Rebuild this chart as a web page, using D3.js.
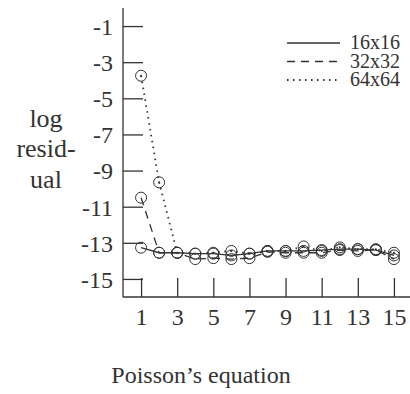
<!DOCTYPE html>
<html>
<head>
<meta charset="utf-8">
<script src="https://cdn.jsdelivr.net/npm/d3@7"></script>
<style>
  body { margin: 0; background: #fff; }
  svg text { font-family: "Liberation Serif", "Times New Roman", serif; fill: #333; }
</style>
</head>
<body>
<div id="chart"></div>
<script>
// iteration number on the x axis
var iterations = [1, 2, 3, 4, 5, 6, 7, 8, 9, 10, 11, 12, 13, 14, 15];

// log residual per grid size
var res16 = [-13.27, -13.55, -13.55, -13.6, -13.6, -13.7, -13.6, -13.45, -13.45, -13.45, -13.4, -13.35, -13.35, -13.4, -13.7];
var res32 = [-10.5, -13.55, -13.55, -13.9, -13.85, -13.9, -13.85, -13.5, -13.55, -13.55, -13.55, -13.4, -13.45, -13.4, -13.9];
var res64 = [-3.75, -9.65, -13.55, -13.6, -13.55, -13.45, -13.6, -13.45, -13.45, -13.2, -13.45, -13.25, -13.35, -13.35, -13.55];

var seriesNames = ["16x16", "32x32", "64x64"];
var xTicks = [1, 3, 5, 7, 9, 11, 13, 15];
var yTicks = [-1, -3, -5, -7, -9, -11, -13, -15];

var svgWidth = 410;
var svgHeight = 394;
var ink = "#333";
var serif = "'Liberation Serif', 'Times New Roman', serif";

var svg = d3.select("#chart")
  .append("svg")
  .attr("width", svgWidth)
  .attr("height", svgHeight);

var x = d3.scaleLinear().domain([0, 16]).range([123, 412]);
var y = d3.scaleLinear().domain([-16, 0]).range([297, 8]);

// axis lines
svg.append("line")
  .attr("x1", x(0)).attr("x2", x(0))
  .attr("y1", y(0)).attr("y2", y(-16))
  .attr("stroke", ink).attr("stroke-width", 1.3);
svg.append("line")
  .attr("x1", x(0)).attr("x2", x(16))
  .attr("y1", y(-16)).attr("y2", y(-16))
  .attr("stroke", ink).attr("stroke-width", 1.3);

// y axis: ticks point inwards
var leftAxis = d3.axisRight(y)
  .tickValues(yTicks)
  .tickSize(20)
  .tickFormat(d3.format("d"));
var yAxis = svg.append("g")
  .attr("transform", `translate(${x(0)}, 0)`)
  .call(leftAxis);
yAxis.attr("font-family", null).attr("font-size", null);
yAxis.select(".domain").remove();
yAxis.selectAll("line").attr("stroke", ink).attr("stroke-width", 1.3);
yAxis.selectAll("text")
  .attr("x", -10)
  .attr("dy", "0.35em")
  .attr("text-anchor", "end")
  .attr("fill", ink)
  .style("font-size", "24px")
  .style("font-family", serif)
  .text(d => d < 0 ? "-" + Math.abs(d) : d);

// x axis: ticks point upwards
var bottomAxis = d3.axisTop(x)
  .tickValues(xTicks)
  .tickSize(19)
  .tickFormat(d3.format("d"));
var xAxis = svg.append("g")
  .attr("transform", `translate(0, ${y(-16)})`)
  .call(bottomAxis);
xAxis.attr("font-family", null).attr("font-size", null);
xAxis.select(".domain").remove();
xAxis.selectAll("line").attr("stroke", ink).attr("stroke-width", 1.3);
xAxis.selectAll("text")
  .attr("y", 28)
  .attr("dy", 0)
  .attr("fill", ink)
  .style("font-size", "24px")
  .style("font-family", serif);

// y axis label
var ylab = svg.append("text")
  .attr("text-anchor", "middle")
  .style("font-size", "26px")
  .style("font-family", serif);
ylab.append("tspan").attr("x", 46).attr("y", 127).text("log");
ylab.append("tspan").attr("x", 46).attr("y", 157).text("resid-");
ylab.append("tspan").attr("x", 46).attr("y", 188).text("ual");

// x axis title
svg.append("text")
  .attr("x", 201)
  .attr("y", 383)
  .attr("text-anchor", "middle")
  .style("font-size", "24px")
  .style("font-family", serif)
  .text("Poisson\u2019s equation");

// series
var allSeries = [res16, res32, res64];
var dashes = [null, "8,6", "1.5,4.5"];

var line = d3.line()
  .x((d, i) => x(iterations[i]))
  .y(d => y(d));

allSeries.forEach(function(vals, k) {
  svg.append("path")
    .datum(vals)
    .attr("d", line)
    .attr("fill", "none")
    .attr("stroke", ink)
    .attr("stroke-width", k == 2 ? 1.8 : 1.3)
    .attr("stroke-dasharray", dashes[k]);

  svg.selectAll(".pt" + k)
    .data(vals)
    .enter()
    .append("circle")
    .attr("class", "pt" + k)
    .attr("cx", (d, i) => x(iterations[i]))
    .attr("cy", d => y(d))
    .attr("r", 5.5)
    .attr("fill", "none")
    .attr("stroke", ink)
    .attr("stroke-width", 1);
});

// centre dots on the 64x64 markers
svg.selectAll(".dot64")
  .data(res64)
  .enter()
  .append("circle")
  .attr("class", "dot64")
  .attr("cx", (d, i) => x(iterations[i]))
  .attr("cy", d => y(d))
  .attr("r", 1)
  .attr("fill", ink);

// legend
var legendY = [43, 61.5, 80];
seriesNames.forEach(function(name, k) {
  svg.append("line")
    .attr("x1", 287).attr("x2", 340)
    .attr("y1", legendY[k]).attr("y2", legendY[k])
    .attr("stroke", ink)
    .attr("stroke-width", k == 2 ? 1.8 : 1.3)
    .attr("stroke-dasharray", dashes[k]);
  svg.append("text")
    .attr("x", 350)
    .attr("y", legendY[k] + 6)
    .style("font-size", "20px")
    .style("font-family", serif)
    .text(name);
});
</script>
</body>
</html>
